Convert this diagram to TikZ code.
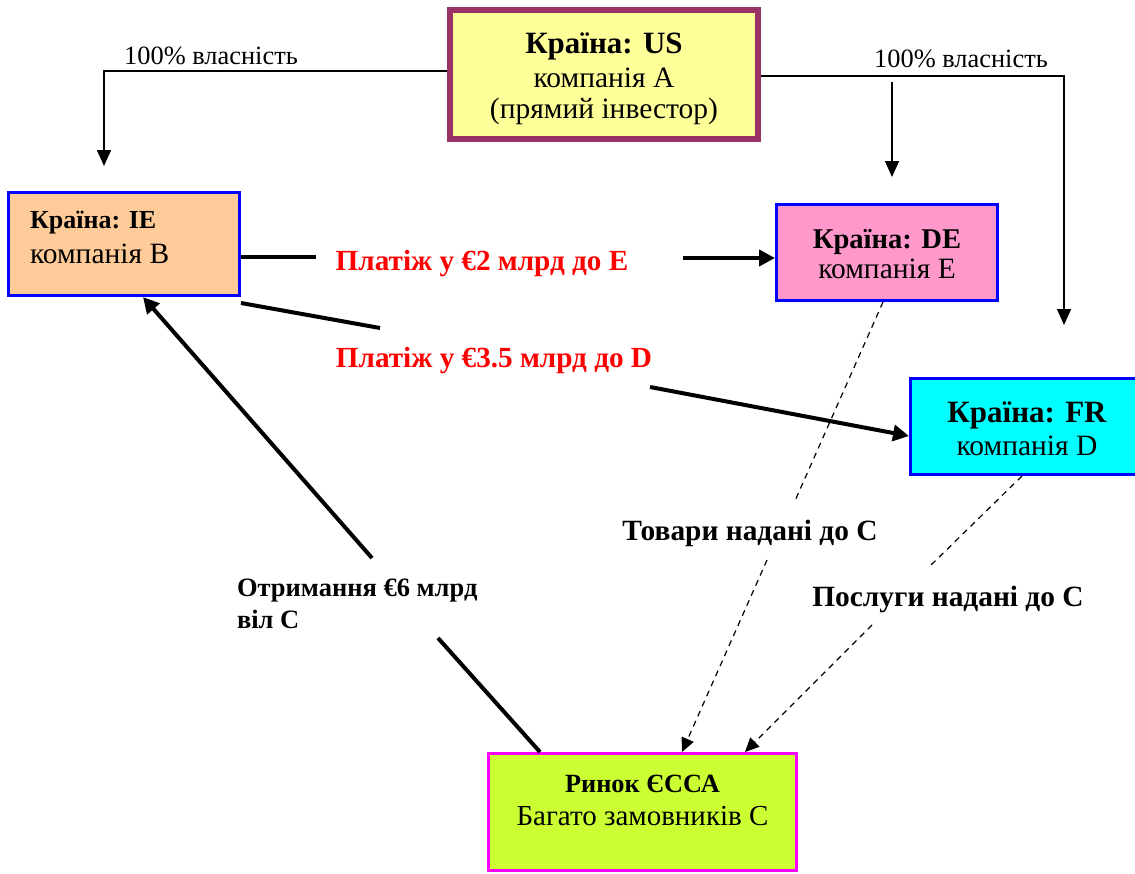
\documentclass[tikz,border=0pt]{standalone}
\usepackage{fontspec}
\setmainfont{Liberation Serif}
\usetikzlibrary{arrows.meta}
\definecolor{aborder}{HTML}{993366}
\definecolor{afill}{HTML}{FFFF99}
\definecolor{bfill}{HTML}{FFCC99}
\definecolor{efill}{HTML}{FF99CC}
\definecolor{dfill}{HTML}{00FFFF}
\definecolor{cfill}{HTML}{CCFF33}
\definecolor{cborder}{HTML}{FF00FF}
\definecolor{bblue}{HTML}{0000FF}
\definecolor{payred}{HTML}{FF0000}
\newcommand\fsz[1]{\fontsize{#1}{#1}\selectfont}
\begin{document}
\begin{tikzpicture}[x=1pt,y=-1pt,
  boxbase/.style={draw, rectangle, inner sep=0pt},
  boxA/.style={boxbase, draw=aborder, line width=6pt, fill=afill, minimum width=308pt, minimum height=129pt},
  boxblue/.style={boxbase, draw=bblue, line width=3pt},
  boxC/.style={boxbase, draw=cborder, line width=3pt, fill=cfill, minimum width=308pt, minimum height=117pt},
  txt/.style={anchor=base, inner sep=0pt, outer sep=0pt},
  bold/.style={txt, font=\fsz{#1}\bfseries},
  reg/.style={txt, font=\fsz{#1}},
  redlbl/.style={txt, font=\fsz{29.2}\bfseries, text=payred},
  own/.style={line width=1.5pt, -{Triangle[length=16pt,width=14pt]}},
  thk/.style={line width=4pt},
  thkarrow/.style={line width=4pt, -{Triangle[length=16pt,width=16pt]}},
  dasharrow/.style={line width=1.2pt, dash pattern=on 6pt off 5pt, -{Triangle[length=14pt,width=13pt]}}
]
\useasboundingbox (0,0) rectangle (1135,873);
\clip (0,0) rectangle (1135,873);

% boxes
\node[boxA] (A) at (604,74.5) {};
\node[boxblue, fill=bfill, minimum width=231pt, minimum height=103pt] (B) at (124,244) {};
\node[boxblue, fill=efill, minimum width=221pt, minimum height=96pt] (E) at (887,252.5) {};
\node[boxblue, fill=dfill, minimum width=233pt, minimum height=96pt] (D) at (1027,426.5) {};
\node[boxC] (C) at (642.5,812) {};

% box texts
\node[bold=31] (A1) at (604,53) {Країна: US};
\node[reg=29.5] (A2) at (604,87) {компанія A};
\node[reg=29.5] (A3) at (604,118) {(прямий інвестор)};
\node[bold=26, anchor=base west] (B1) at (30,228) {Країна: IE};
\node[reg=29.5, anchor=base west] (B2) at (30,263) {компанія B};
\node[bold=28.6] (E1) at (887,248) {Країна: DE};
\node[reg=29.5] (E2) at (887,278) {компанія E};
\node[bold=31] (D1) at (1027,422) {Країна: FR};
\node[reg=29.5] (D2) at (1027,455) {компанія D};
\node[bold=26.3] (C1) at (642.5,792) {Ринок ЄССА};
\node[reg=29] (C2) at (642.5,825) {Багато замовників С};

% free ends
\coordinate (tipB) at (104,166);
\coordinate (tipD) at (1064,325);
\coordinate (midTop) at (892,82);
\coordinate (tipE) at (892,177);
\coordinate (be1) at (316,257);
\coordinate (be2) at (683,258);
\coordinate (bd1) at (380,328);
\coordinate (bd2) at (650,387);
\coordinate (cb1) at (438,638);
\coordinate (cb2) at (372,558);
\coordinate (ec1) at (794,503);
\coordinate (ec2) at (767,560);
\coordinate (dc1) at (930,566);
\coordinate (dc2) at (872,625);

% ownership
\draw[own] ([yshift=3.5pt]A.west) -| (tipB);
\draw[own] ([yshift=-1.5pt]A.east) -| (tipD);
\draw[own] (midTop) -- (tipE);
\node[reg=26.4] (own1) at (211,64) {100\% власність};
\node[reg=26.4] (own2) at (961,67) {100\% власність};

% payments
\draw[thk] ([yshift=-13pt]B.east) -- (be1);
\draw[thkarrow] (be2) -- (be2 -| E.west);
\node[redlbl] (p1) at (482,270) {Платіж у €2 млрд до E};
\draw[thk] ([yshift=-6pt]B.south east) -- (bd1);
\draw[thkarrow] (bd2) -- ([yshift=-9.5pt]D.west);
\node[redlbl] (p2) at (494,367) {Платіж у €3.5 млрд до D};

% receipt
\draw[thk] ([xshift=53pt]C.north west) -- (cb1);
\draw[thkarrow] (cb2) -- ([xshift=19pt]B.south);
\node[bold=26.5, anchor=base west] (r1) at (237,596) {Отримання €6 млрд};
\node[bold=26.5, anchor=base west] (r2) at (237,628) {віл С};

% goods and services
\draw[line width=1.2pt, dash pattern=on 6pt off 5pt] ([xshift=-4pt]E.south) -- (ec1);
\draw[dasharrow] (ec2) -- ([xshift=39.5pt]C.north);
\node[bold=29.4] (g1) at (750,540) {Товари надані до С};
\draw[line width=1.2pt, dash pattern=on 6pt off 5pt] ([xshift=-5pt]D.south) -- (dc1);
\draw[dasharrow] (dc2) -- ([xshift=-53pt]C.north east);
\node[bold=29.4] (s1) at (948,606) {Послуги надані до С};
\end{tikzpicture}
\end{document}
